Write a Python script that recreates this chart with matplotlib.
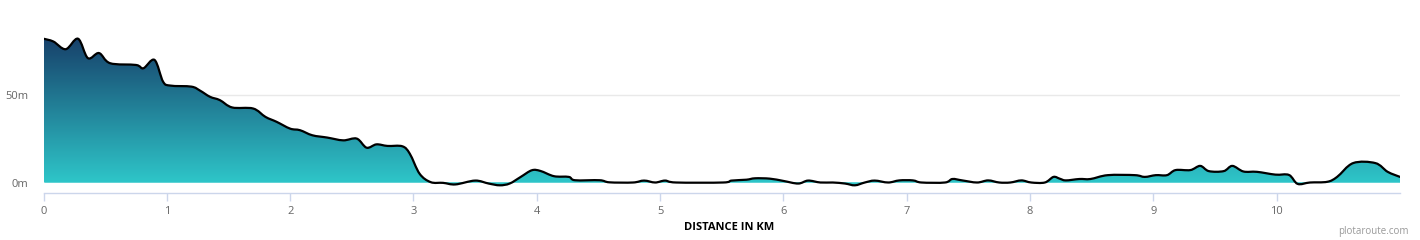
import matplotlib
matplotlib.use("Agg")
import matplotlib.pyplot as plt
import numpy as np
from matplotlib.path import Path
from matplotlib.patches import PathPatch
from matplotlib.colors import LinearSegmentedColormap

# elevation profile (km, m)
dist_km = [0.00, 0.08, 0.18, 0.28, 0.36, 0.45, 0.54, 0.75, 0.81, 0.90,
           0.97, 1.03, 1.20, 1.27, 1.35, 1.43, 1.53, 1.70, 1.80, 1.89,
           2.00, 2.08, 2.18, 2.30, 2.43, 2.54, 2.62, 2.70, 2.79, 2.91,
           2.97, 3.05, 3.14, 3.24, 3.34, 3.50, 3.61, 3.70, 3.78, 3.87,
           3.96, 4.03, 4.14, 4.26, 4.31, 4.51, 4.59, 4.78, 4.87, 4.96,
           5.04, 5.13, 5.51, 5.58, 5.70, 5.77, 5.89, 6.00, 6.12, 6.20,
           6.30, 6.40, 6.50, 6.58, 6.66, 6.74, 6.85, 6.94, 7.05, 7.12,
           7.31, 7.37, 7.45, 7.57, 7.66, 7.75, 7.84, 7.93, 8.01, 8.12,
           8.19, 8.24, 8.29, 8.40, 8.49, 8.63, 8.85, 8.93, 9.02, 9.11,
           9.18, 9.30, 9.38, 9.45, 9.57, 9.64, 9.73, 9.84, 9.99, 10.10,
           10.17, 10.27, 10.41, 10.49, 10.62, 10.80, 10.90, 11.00]
elev_m = [82.2, 80.6, 76.2, 82.2, 71.1, 74.0, 68.2, 67.2, 65.3, 70.1,
          57.6, 55.4, 54.8, 52.5, 49.0, 47.1, 42.9, 42.3, 37.5, 34.7,
          30.8, 29.9, 27.0, 25.7, 24.1, 25.1, 19.9, 21.8, 20.9, 20.7,
          16.5, 5.0, 0.2, -0.2, -1.1, 1.1, -0.6, -1.6, -0.6, 3.2,
          7.0, 6.6, 3.6, 3.2, 1.3, 1.3, 0.1, 0.0, 1.1, 0.0,
          1.1, 0.0, 0.0, 1.1, 1.6, 2.4, 2.2, 0.9, -0.6, 1.1,
          0.0, 0.0, -0.6, -1.6, 0.0, 1.1, 0.0, 1.2, 1.2, 0.0,
          0.0, 2.0, 1.2, 0.0, 1.2, 0.0, 0.0, 1.2, 0.0, 0.0,
          3.2, 2.2, 1.2, 2.0, 2.0, 4.2, 4.2, 3.2, 4.2, 4.2,
          7.1, 7.1, 9.5, 6.5, 6.5, 9.5, 6.3, 6.1, 4.5, 4.3,
          -0.8, 0.0, 0.4, 3.2, 11.1, 11.1, 6.1, 3.2]
x_ticks = [0, 1, 2, 3, 4, 5, 6, 7, 8, 9, 10]
y_ticks = [0, 50]
y_tick_labels = ["0m", "50m"]

plt.rcParams['font.family'] = ['Open Sans', 'DejaVu Sans']

fig = plt.figure(figsize=(14.2, 2.4), dpi=100)
ax = fig.add_axes([43.5 / 1420, 47 / 240, (1400 - 43.5) / 1420, 173 / 240])
ax.set_xlim(0, 11.0)
ax.set_ylim(-6.0, 92.9)

# smooth spline path through the points (bezier control points)
x = np.array(dist_km)
y = np.array(elev_m)
n = len(x)
verts = [(x[0], y[0])]
codes = [Path.MOVETO]
for i in range(n - 1):
    x0, y0 = (x[i - 1], y[i - 1]) if i > 0 else (x[i], y[i])
    x3, y3 = (x[i + 2], y[i + 2]) if i + 2 < n else (x[i + 1], y[i + 1])
    c1 = (x[i] + (x[i + 1] - x0) / 6, y[i] + (y[i + 1] - y0) / 6)
    c2 = (x[i + 1] - (x3 - x[i]) / 6, y[i + 1] - (y3 - y[i]) / 6)
    verts += [c1, c2, (x[i + 1], y[i + 1])]
    codes += [Path.CURVE4] * 3

line_path = Path(verts, codes)
fill_path = Path(verts + [(x[-1], 0), (x[0], 0), (x[0], y[0])],
                 codes + [Path.LINETO, Path.LINETO, Path.CLOSEPOLY])

# gradient fill
cmap = LinearSegmentedColormap.from_list("elev", ["#2ec6c9", "#17406a"])
grad = np.linspace(0, 1, 256).reshape(-1, 1)
fill_patch = PathPatch(fill_path, facecolor="none", edgecolor="none")
ax.add_patch(fill_patch)
img = ax.imshow(grad, cmap=cmap, aspect="auto", origin="lower",
                extent=[0, 11.0, 0, 83], zorder=2)
img.set_clip_path(fill_patch)
low = ax.fill_between([0, 11], -6, 0, color="#2ec6c9", zorder=2)
low.set_clip_path(fill_patch)

ax.add_patch(PathPatch(line_path, facecolor="none", edgecolor="black",
                       lw=1.6, zorder=3, capstyle="round", joinstyle="round"))

ax.axhline(50, color="#e9e9e9", lw=1, zorder=0)

for s in ["top", "right", "left"]:
    ax.spines[s].set_visible(False)
ax.spines["bottom"].set_color("#ccd6eb")
ax.spines["bottom"].set_linewidth(1)

ax.set_xticks(x_ticks)
ax.set_yticks(y_ticks)
ax.set_yticklabels(y_tick_labels)
ax.tick_params(axis="x", length=6, width=1, color="#ccd6eb", pad=3,
               labelsize=8, labelcolor="#666666")
ax.tick_params(axis="y", length=0, pad=11, labelsize=8, labelcolor="#666666")

fig.text(729 / 1420, 1 - 227 / 240, "DISTANCE IN KM", ha="center", va="center",
         fontsize=8, fontweight="bold", color="black")
fig.text(1409 / 1420, 1 - 231.5 / 240, "plotaroute.com", ha="right", va="center",
         fontsize=7, color="#999999")

fig.savefig("out.png", dpi=100)
